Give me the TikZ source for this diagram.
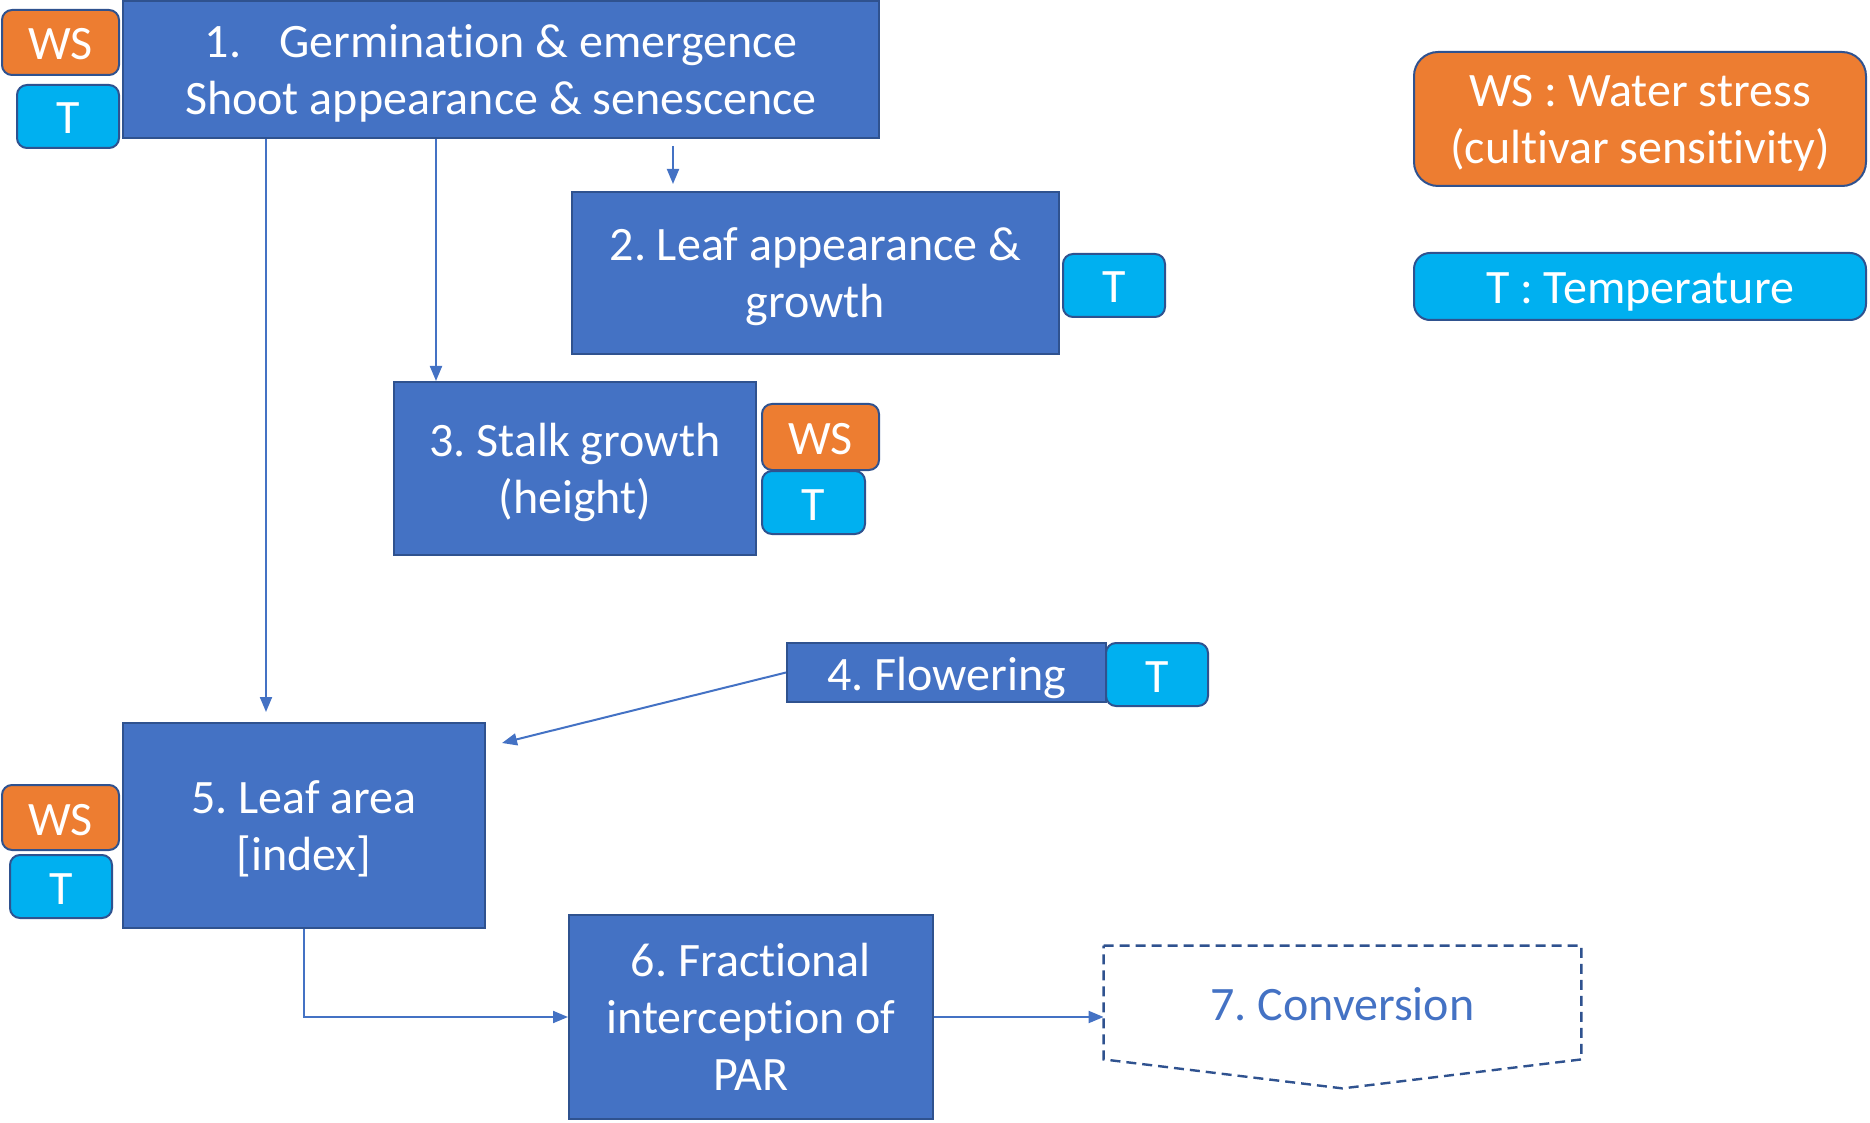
\documentclass[tikz,border=0pt]{standalone}
\usepackage{fontspec}
\setmainfont{Carlito}[Ligatures=NoCommon]
\usetikzlibrary{calc,arrows.meta}
\frenchspacing
\definecolor{boxblue}{HTML}{4472C4}
\definecolor{edgeblue}{HTML}{2F528F}
\definecolor{wsorange}{HTML}{ED7D31}
\definecolor{tcyan}{HTML}{00B0F0}
\tikzset{
  txt/.style={font=\fontsize{24}{28.5}\selectfont, text=white, align=center, inner sep=0pt,
    text depth=0pt, execute at begin node={\rule{0pt}{17.5pt}}},
  stage/.style={txt, fill=boxblue, draw=edgeblue, line width=1pt},
  wsbadge/.style={txt, fill=wsorange, draw=edgeblue, line width=1pt, rounded corners=5pt},
  tbadge/.style={txt, fill=tcyan, draw=edgeblue, line width=1pt, rounded corners=5pt},
  arr/.style={draw=boxblue, line width=1pt, -{Triangle[length=7.5pt,width=6pt]}},
}
\begin{document}
\begin{tikzpicture}[x=0.5pt, y=-0.5pt]
\useasboundingbox (0,0) rectangle (1870,1123);

% process stages
\node[stage, minimum width=378pt, minimum height=68.5pt] (box1) at (501,69.5)
  {1.\hspace{19pt}Germination \& emergence\\Shoot appearance \& senescence};
\node[stage, minimum width=243.5pt, minimum height=81pt] (box2) at (815.5,273)
  {2. Leaf appearance \&\\growth};
\node[stage, minimum width=181pt, minimum height=86.5pt] (box3) at (575,468.5)
  {3. Stalk growth\\(height)};
\node[stage, minimum width=159.5pt, minimum height=29.5pt] (box4) at (946.5,672.5)
  {4. Flowering};
\node[stage, minimum width=181pt, minimum height=102.5pt] (box5) at (304,825.5)
  {5. Leaf area\\{[}index{]}};
\node[stage, minimum width=182pt, minimum height=102pt] (box6) at (751,1017)
  {6. Fractional\\interception of\\PAR};
\node[txt, text=boxblue, minimum width=238.5pt, minimum height=56.5pt] (box7) at (1342.5,1002.5)
  {7. Conversion};
\draw[edgeblue, line width=1.2pt, dash pattern=on 5pt off 3pt]
  (box7.north west) -- (box7.north east) -- (box7.south east)
  -- ($(box7.south)+(0,29)$) -- (box7.south west) -- cycle;

% driver badges
\node[wsbadge, minimum width=58.5pt, minimum height=32.5pt] (ws1) at (60.5,42.5) {WS};
\node[tbadge, minimum width=51pt, minimum height=31.5pt] (t1) at (68,116.5) {T};
\node[tbadge, minimum width=51pt, minimum height=31.5pt] (t2) at (1114,285.5) {T};
\node[wsbadge, minimum width=58.5pt, minimum height=33pt] (ws3) at (820.5,437) {WS};
\node[tbadge, minimum width=51.5pt, minimum height=31.5pt] (t3) at (813.5,502.5) {T};
\node[tbadge, minimum width=51pt, minimum height=31.5pt] (t4) at (1157,674.5) {T};
\node[wsbadge, minimum width=58.5pt, minimum height=32.5pt] (ws5) at (60.5,817.5) {WS};
\node[tbadge, minimum width=51pt, minimum height=31.5pt] (t5) at (61,886.5) {T};

% legend
\node[wsbadge, rounded corners=12pt, minimum width=226pt, minimum height=67pt] (legws) at (1640,119)
  {WS : Water stress\\(cultivar sensitivity)};
\node[tbadge, rounded corners=8pt, minimum width=226pt, minimum height=33.5pt] (legt) at (1640,286.5)
  {T : Temperature};

% connectors
\coordinate (x12) at (673,0);
\coordinate (x13) at (436,0);
\coordinate (x15) at (266,0);
\coordinate (f45) at (502,743);
\draw[arr, shorten <=3.5pt, shorten >=3.5pt] (box1.south -| x12) -- (box2.north -| x12);
\draw[arr] (box1.south -| x13) -- (box3.north -| x13);
\draw[arr, shorten >=5pt] (box1.south -| x15) -- (box5.north -| x15);
\draw[arr] (box4.west) -- (f45);
\draw[arr] (box5.south) |- (box6.west);
\draw[arr] (box6.east) -- (box6.east -| box7.west);
\end{tikzpicture}
\end{document}
